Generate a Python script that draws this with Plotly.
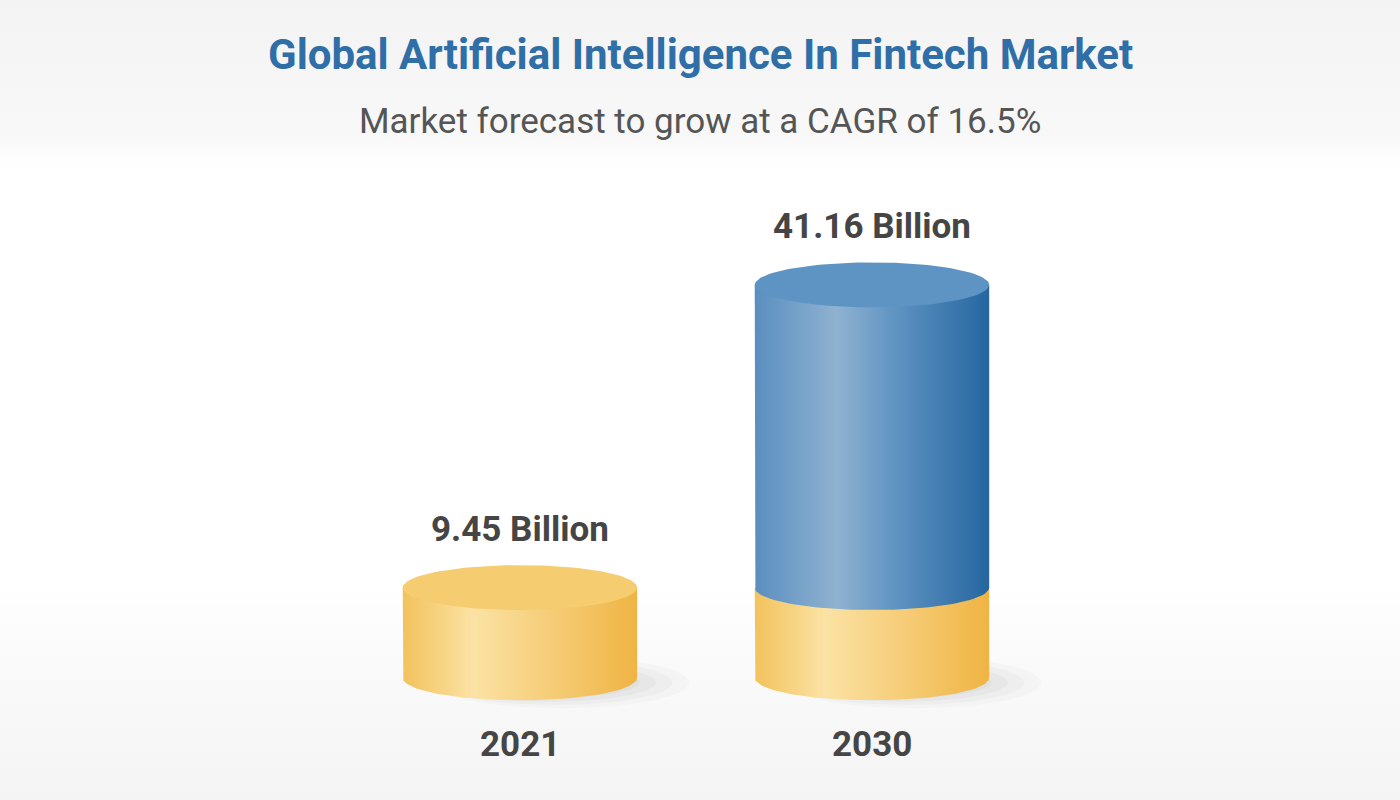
import numpy as np
import plotly.graph_objects as go

# data (USD billion)
years = ["2021", "2030"]
values = [9.45, 41.16]
base_level = [9.45, 9.45]          # 2021 level, shown as the yellow base of each cylinder
value_labels = ["9.45 Billion", "41.16 Billion"]

title = "Global Artificial Intelligence In Fintech Market"
subtitle = "Market forecast to grow at a CAGR of 16.5%"

# drawing style
W = 1400
H = 800
half_w = 0.333      # cylinder half width, x units
ry = 2.35           # ellipse half height, y units
yrange = [-12.8, 71.0]
xrange = [-1.477, 2.5]

yellow_side = [[0, "#f2c25c"], [0.3, "#fbe2a4"], [0.55, "#f7d283"], [1, "#efb443"]]
yellow_top = "#f5cc70"
blue_side = [[0, "#5a8ec0"], [0.35, "#8fb2d0"], [0.6, "#5f93c2"], [1, "#2566a0"]]
blue_top = "#5e94c3"

t = np.linspace(0, np.pi, 60)


def body(xc, y0, y1):
    # side of the cylinder: left edge, front arc at the bottom, right edge
    xs = np.concatenate([[xc - half_w], xc - half_w * np.cos(t), [xc + half_w, xc - half_w]])
    ys = np.concatenate([[y1], y0 - ry * np.sin(t), [y1, y1]])
    return xs, ys


def ellipse(xc, yc, rx=half_w, r=ry):
    a = np.linspace(0, 2 * np.pi, 120)
    return xc + rx * np.cos(a), yc + r * np.sin(a)


fig = go.Figure()

# soft page background
fig.add_trace(go.Scatter(
    x=[xrange[0], xrange[1], xrange[1], xrange[0], xrange[0]],
    y=[yrange[0], yrange[0], yrange[1], yrange[1], yrange[0]],
    mode="lines", line=dict(width=0), fill="toself",
    fillgradient=dict(type="vertical", colorscale=[
        [0, "#f4f4f4"], [0.2, "#fbfbfb"], [0.27, "#ffffff"],
        [0.79, "#ffffff"], [0.83, "#f8f8f8"], [1, "#f3f3f3"]]),
    hoverinfo="skip", showlegend=False))

for i, (yr, v, b) in enumerate(zip(years, values, base_level)):
    # soft shadow to the right of the base
    for k, op in enumerate([0.03, 0.04, 0.045, 0.05]):
        sx, sy = ellipse(i + 0.12 - 0.02 * k, -0.5, rx=half_w * (1.08 - 0.08 * k), r=ry * (1.15 - 0.15 * k))
        fig.add_trace(go.Scatter(x=sx, y=sy, mode="lines", line=dict(width=0),
                                 fill="toself", fillcolor=f"rgba(90,90,90,{op})",
                                 hoverinfo="skip", showlegend=False))

    top_yellow = min(b, v)
    bx, by = body(i, 0, top_yellow)
    fig.add_trace(go.Scatter(x=bx, y=by, mode="lines", line=dict(width=0), fill="toself",
                             fillgradient=dict(type="horizontal", colorscale=yellow_side),
                             hoverinfo="skip", showlegend=False))
    if v > b:
        bx, by = body(i, b, v)
        fig.add_trace(go.Scatter(x=bx, y=by, mode="lines", line=dict(width=0), fill="toself",
                                 fillgradient=dict(type="horizontal", colorscale=blue_side),
                                 hoverinfo="skip", showlegend=False))
        top_col = blue_top
    else:
        top_col = yellow_top
    ex, ey = ellipse(i, v)
    fig.add_trace(go.Scatter(x=ex, y=ey, mode="lines", line=dict(width=0), fill="toself",
                             fillcolor=top_col, hoverinfo="skip", showlegend=False))

    fig.add_annotation(x=i, y=v, text=value_labels[i], showarrow=False, yshift=58,
                       yanchor="middle",
                       font=dict(family="Roboto", size=35, color="#454545", weight="bold"))
    fig.add_annotation(x=i, y=0, text=yr, showarrow=False, yshift=-67,
                       yanchor="middle",
                       font=dict(family="Roboto", size=35, color="#454545", weight="bold"))

fig.add_annotation(xref="paper", yref="paper", x=0.5, y=1 - 55 / H, text=title,
                   showarrow=False, yanchor="middle",
                   font=dict(family="Roboto", size=42, color="#2f6ea6", weight="bold"))
fig.add_annotation(xref="paper", yref="paper", x=0.5, y=1 - 121 / H, text=subtitle,
                   showarrow=False, yanchor="middle",
                   font=dict(family="Roboto", size=35, color="#555555"))

fig.update_layout(
    width=W, height=H,
    margin=dict(l=0, r=0, t=0, b=0),
    paper_bgcolor="white", plot_bgcolor="white",
    xaxis=dict(range=xrange, visible=False, fixedrange=True),
    yaxis=dict(range=yrange, visible=False, fixedrange=True),
    showlegend=False,
)

fig.write_html("out.html", config={"displayModeBar": False},
               post_script="document.body.style.margin='0';")
